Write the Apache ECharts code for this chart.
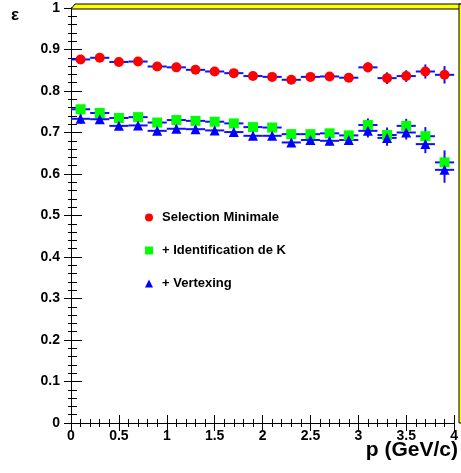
<!DOCTYPE html>
<html>
<head>
<meta charset="utf-8">
<script src="https://cdn.jsdelivr.net/npm/echarts@6/dist/echarts.min.js"></script>
<style>html,body{margin:0;padding:0;background:#fff}#c{width:461px;height:473px}</style>
</head>
<body>
<div id="c"></div>
<script>
var pCenters = [0.1,0.3,0.5,0.7,0.9,1.1,1.3,1.5,1.7,1.9,2.1,2.3,2.5,2.7,2.9,3.1,3.3,3.5,3.7,3.9];
var binHalfWidth = 0.1;
var selMin = [0.876,0.880,0.870,0.871,0.859,0.857,0.851,0.847,0.843,0.836,0.834,0.827,0.834,0.835,0.832,0.857,0.831,0.836,0.847,0.839];
var selMinErr = [0.006,0.006,0.006,0.006,0.006,0.006,0.006,0.006,0.007,0.007,0.007,0.008,0.008,0.008,0.009,0.012,0.014,0.014,0.017,0.021];
var identK = [0.756,0.747,0.735,0.737,0.724,0.730,0.728,0.726,0.722,0.713,0.712,0.696,0.696,0.698,0.693,0.718,0.694,0.716,0.691,0.628];
var identKErr = [0.010,0.008,0.008,0.008,0.008,0.008,0.008,0.008,0.008,0.009,0.009,0.009,0.010,0.010,0.011,0.016,0.018,0.017,0.022,0.029];
var vertex = [0.733,0.732,0.716,0.717,0.704,0.709,0.708,0.705,0.701,0.692,0.692,0.676,0.682,0.680,0.682,0.704,0.687,0.700,0.672,0.610];
var vertexErr = [0.012,0.009,0.009,0.009,0.009,0.009,0.009,0.009,0.009,0.010,0.010,0.010,0.011,0.011,0.012,0.016,0.019,0.017,0.022,0.031];
var seriesNames = ['Selection Minimale', '+ Identification de K', '+ Vertexing'];
var xTitle = 'p (GeV/c)';
var yTitle = 'ε';

function pts(vals, errs) {
  return pCenters.map(function (x, i) { return [x, vals[i], errs[i]]; });
}
function errSeries(vals, errs) {
  return {
    type: 'custom',
    silent: true,
    z: 2,
    data: pts(vals, errs),
    renderItem: function (params, api) {
      var x = api.value(0), y = api.value(1), e = api.value(2);
      var l = api.coord([x - binHalfWidth, y]);
      var r = api.coord([x + binHalfWidth, y]);
      var t = api.coord([x, y + e]);
      var b = api.coord([x, y - e]);
      var st = { stroke: '#1010ff', lineWidth: 2 };
      return { type: 'group', children: [
        { type: 'line', shape: { x1: l[0], y1: l[1], x2: r[0], y2: r[1] }, style: st },
        { type: 'line', shape: { x1: t[0], y1: t[1], x2: b[0], y2: b[1] }, style: st }
      ]};
    }
  };
}
function tickAxis(len, minorLen) {
  return {
    axisTick: { show: true, inside: true, length: len, lineStyle: { color: '#000' } },
    minorTick: { show: true, splitNumber: 5, length: minorLen, lineStyle: { color: '#000' } }
  };
}
var font = 'Liberation Sans, Arial, sans-serif';
var chart = echarts.init(document.getElementById('c'), null, { renderer: 'canvas' });
chart.setOption({
  animation: false,
  backgroundColor: '#ffffff',
  grid: { left: 71, right: 2, top: 8, bottom: 50 },
  legend: {
    data: seriesNames,
    orient: 'vertical',
    left: 140, top: 206,
    itemWidth: 8, itemHeight: 8, itemGap: 20,
    textStyle: { fontFamily: font, fontWeight: 'bold', fontSize: 13, color: '#000', padding: [0, 0, 0, 4] }
  },
  xAxis: [Object.assign({
    type: 'value', min: 0, max: 4, interval: 0.5, position: 'bottom',
    axisLine: { show: true, lineStyle: { color: '#000', width: 1 } },
    splitLine: { show: false },
    axisLabel: { fontFamily: font, fontWeight: 'bold', fontSize: 14, color: '#000', margin: 6, formatter: function (v) { return String(v); } }
  }, tickAxis(8, 4)), Object.assign({
    type: 'value', min: 0, max: 4, interval: 0.5, position: 'top',
    axisLine: { show: true, lineStyle: { color: '#000', width: 1 } },
    splitLine: { show: false }, axisLabel: { show: false }
  }, tickAxis(8, 4))],
  yAxis: [Object.assign({
    type: 'value', min: 0, max: 1, interval: 0.1, position: 'left',
    name: yTitle, nameLocation: 'end', nameGap: -7,
    nameTextStyle: { fontFamily: font, fontWeight: 'bold', fontSize: 17, color: '#000', align: 'right', verticalAlign: 'middle', padding: [0, 52, 0, 0] },
    axisLine: { show: true, lineStyle: { color: '#000', width: 1 } },
    splitLine: { show: false },
    axisLabel: { fontFamily: font, fontWeight: 'bold', fontSize: 14, color: '#000', margin: 11, formatter: function (v) { return String(Math.round(v * 10) / 10); } }
  }, tickAxis(11, 6)), Object.assign({
    type: 'value', min: 0, max: 1, interval: 0.1, position: 'right',
    axisLine: { show: true, lineStyle: { color: '#000', width: 1 } },
    splitLine: { show: false }, axisLabel: { show: false }
  }, tickAxis(7, 3))],
  graphic: [
    { type: 'polygon', z: 100, shape: { points: [[71, 9], [75, 4], [461, 4], [461, 9]] }, style: { fill: '#ffff00', stroke: '#000', lineWidth: 1 } },
    { type: 'rect', z: 100, shape: { x: 459, y: 4, width: 3, height: 419 }, style: { fill: '#ffff00', stroke: '#000', lineWidth: 1 } },
    { type: 'text', z: 100, right: 3, top: 440, style: { text: xTitle, font: 'bold 21px ' + font, fill: '#000' } }
  ],
  series: [
    errSeries(selMin, selMinErr),
    errSeries(identK, identKErr),
    errSeries(vertex, vertexErr),
    { name: seriesNames[0], type: 'scatter', z: 5, symbol: 'circle', symbolSize: 10, itemStyle: { color: '#ff0000', opacity: 1 }, data: pts(selMin, selMinErr) },
    { name: seriesNames[1], type: 'scatter', z: 5, symbol: 'rect', symbolSize: 10, itemStyle: { color: '#00ff00', opacity: 1 }, data: pts(identK, identKErr) },
    { name: seriesNames[2], type: 'scatter', z: 5, symbol: 'triangle', symbolSize: 10, itemStyle: { color: '#0000ff', opacity: 1 }, data: pts(vertex, vertexErr) }
  ]
});
</script>
</body>
</html>
